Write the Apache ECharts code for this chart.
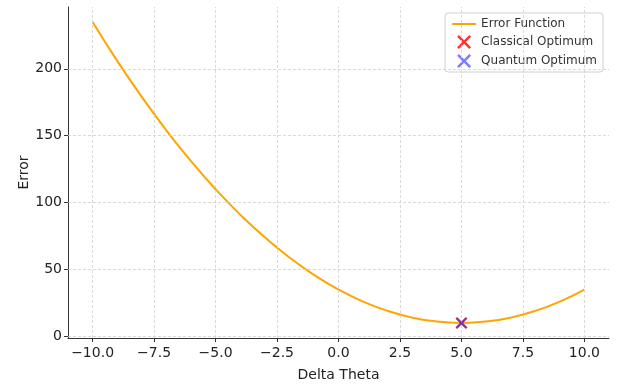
<!DOCTYPE html>
<html><head><meta charset="utf-8">
<script src="https://cdn.jsdelivr.net/npm/echarts@6/dist/echarts.min.js"></script>
<style>html,body{margin:0;padding:0;background:#fff}#c{width:621px;height:387px}</style>
</head><body><div id="c"></div>
<script>
const deltaTheta = [-10,-9,-8,-7,-6,-5,-4,-3,-2,-1,0,1,2,3,4,5,6,7,8,9,10];
const errorValues = [235,206,179,154,131,110,91,74,59,46,35,26,19,14,11,10,11,14,19,26,35];
const classicalOpt = [[5,10]];
const quantumOpt = [[5,10]];
const xTicks = [-10,-7.5,-5,-2.5,0,2.5,5,7.5,10];
const yTicks = [0,50,100,150,200];

const X = 'path://M0,1.3L1.3,0L5,3.7L8.7,0L10,1.3L6.3,5L10,8.7L8.7,10L5,6.3L1.3,10L0,8.7L3.7,5Z';
const fmtX = v => (v<0?'\u2212':'') + Math.abs(v).toFixed(1);
const font = 'DejaVu Sans';
const gridStyle = {type:[3,2], color:'#cfcfcf', width:0.8};

const chart = echarts.init(document.getElementById('c'), null, {renderer:'canvas'});
chart.setOption({
  animation:false,
  backgroundColor:'#fff',
  textStyle:{fontFamily:font},
  grid:{left:68, right:12, top:7, bottom:44},
  legend:{
    data:[{name:'Error Function', itemStyle:{opacity:0}},
          {name:'Classical Optimum'},{name:'Quantum Optimum'}],
    orient:'vertical', right:18, top:13,
    backgroundColor:'rgba(255,255,255,0.85)', borderColor:'#d0d0d0', borderWidth:1, borderRadius:3,
    padding:[5,6,4,6], itemGap:5, itemWidth:24, itemHeight:14,
    textStyle:{fontFamily:font, fontSize:12, color:'#333'}
  },
  xAxis:{
    type:'value', min:-11, max:11,
    name:'Delta Theta', nameLocation:'middle', nameGap:30, nameMoveOverlap:false,
    nameTextStyle:{fontFamily:font, fontSize:14, color:'#222'},
    axisLine:{show:true, onZero:false, lineStyle:{color:'#333', width:1}},
    axisTick:{show:true, length:4, customValues:xTicks, lineStyle:{color:'#333'}},
    axisLabel:{customValues:xTicks, formatter:fmtX, margin:8, fontFamily:font, fontSize:14, color:'#222'},
    splitLine:{show:false}
  },
  yAxis:{
    type:'value', min:-1.25, max:246.25,
    name:'Error', nameLocation:'middle', nameGap:37, nameRotate:90, nameMoveOverlap:false,
    nameTextStyle:{fontFamily:font, fontSize:14, color:'#222'},
    axisLine:{show:true, onZero:false, lineStyle:{color:'#333', width:1}},
    axisTick:{show:true, length:4, customValues:yTicks, lineStyle:{color:'#333'}},
    axisLabel:{customValues:yTicks, margin:6, fontFamily:font, fontSize:14, color:'#222'},
    splitLine:{show:false}
  },
  series:[
    {name:'grid', type:'scatter', data:[], z:1, silent:true,
     markLine:{symbol:'none', silent:true, label:{show:false}, lineStyle:gridStyle, animation:false,
       data: xTicks.map(v=>({xAxis:v})).concat(yTicks.map(v=>({yAxis:v})))}},
    {name:'Error Function', type:'line', data:deltaTheta.map((x,i)=>[x,errorValues[i]]),
     smooth:0.5, symbol:'none', z:3, lineStyle:{color:'#FFA500', width:2}, itemStyle:{color:'#FFA500'}},
    {name:'Classical Optimum', type:'scatter', data:classicalOpt, symbol:X, symbolSize:12, z:4,
     itemStyle:{color:'#ff0000'}},
    {name:'Quantum Optimum', type:'scatter', data:quantumOpt, symbol:X, symbolSize:11, z:5,
     itemStyle:{color:'rgba(50,50,255,0.8)'}}
  ]
});
</script></body></html>
